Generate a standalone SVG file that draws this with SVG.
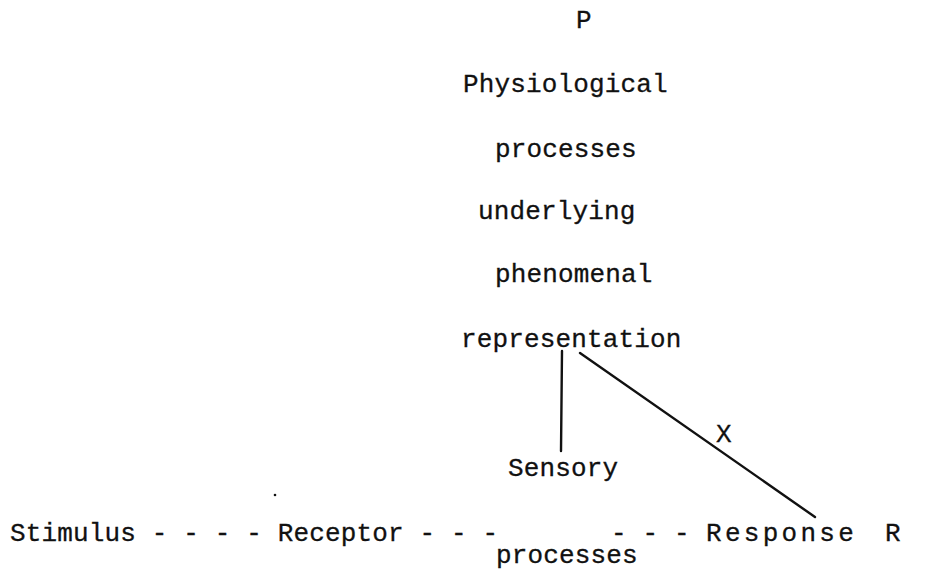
<svg xmlns="http://www.w3.org/2000/svg" width="929" height="584" viewBox="0 0 929 584">
<style>
text { font-family: "Liberation Mono", "DejaVu Sans Mono", monospace; font-size: 26px; letter-spacing: 0.15px; fill: #111; stroke: #111; stroke-width: 0.3; }
.ln { stroke: #111; stroke-width: 2.4; fill: none; stroke-linecap: round; }
</style>
<rect width="929" height="584" fill="#fff"/>
<g id="P"><text x="576" y="28">P</text></g>
<g id="physiological">
<text x="463" y="92">Physiological</text>
<text x="495" y="157">processes</text>
<text x="478" y="219">underlying</text>
<text x="495" y="282">phenomenal</text>
<text x="461" y="347">representation</text>
</g>
<g id="sensory">
<text x="508" y="476">Sensory</text>
<text x="496" y="563">processes</text>
</g>
<g id="stimulus-receptor"><text x="10" y="541">Stimulus - - - - Receptor - - -</text></g>
<g id="response"><text x="611" y="541">- - -</text><text x="706" y="541" textLength="148" lengthAdjust="spacing">Response</text></g>
<g id="R"><text x="885" y="541">R</text></g>
<g id="connectors">
<line class="ln" x1="562" y1="351" x2="561" y2="451"/>
<line class="ln" x1="580" y1="353" x2="815" y2="517"/>
<text x="716" y="442">X</text>
</g>
<circle cx="275" cy="495" r="1.3" fill="#111"/>
</svg>
